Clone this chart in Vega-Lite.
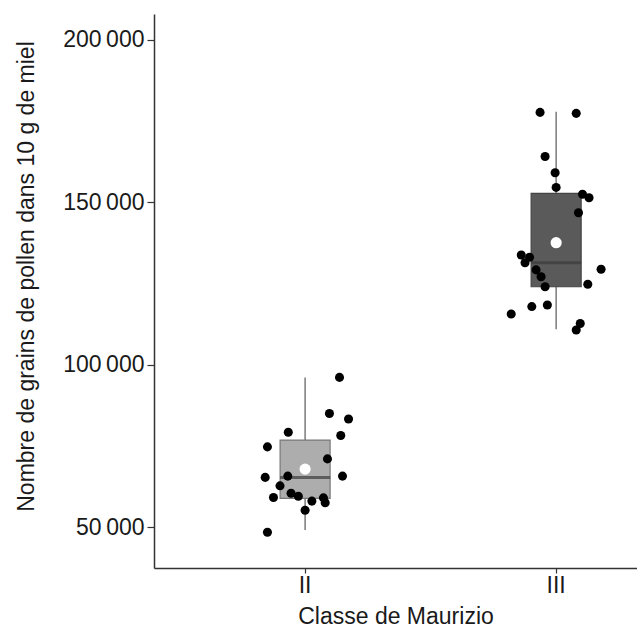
{
  "$schema": "https://vega.github.io/schema/vega-lite/v6.json",
  "autosize": "none",
  "width": 483,
  "height": 554,
  "padding": {"left": 154, "top": 14, "right": 0, "bottom": 66},
  "background": "white",
  "config": {
    "view": {"stroke": null},
    "font": "Liberation Sans",
    "axis": {
      "grid": false,
      "domainColor": "#333333",
      "domainWidth": 1.5,
      "tickColor": "#333333",
      "tickWidth": 1.2,
      "labelColor": "#1a1a1a",
      "titleColor": "#1a1a1a",
      "labelFont": "Liberation Sans",
      "titleFont": "Liberation Sans",
      "labelFontSize": 23,
      "titleFontSize": 23,
      "titleFontWeight": "normal"
    }
  },
  "datasets": {
    "pts": [
      {"classe": "II", "jitter": 0.137, "pollen": 96100},
      {"classe": "II", "jitter": 0.097, "pollen": 85000},
      {"classe": "II", "jitter": 0.173, "pollen": 83300},
      {"classe": "II", "jitter": -0.067, "pollen": 79200},
      {"classe": "II", "jitter": 0.142, "pollen": 78200},
      {"classe": "II", "jitter": -0.15, "pollen": 74700},
      {"classe": "II", "jitter": 0.089, "pollen": 71000},
      {"classe": "II", "jitter": -0.159, "pollen": 65300},
      {"classe": "II", "jitter": -0.069, "pollen": 65700},
      {"classe": "II", "jitter": 0.149, "pollen": 65700},
      {"classe": "II", "jitter": -0.1, "pollen": 62700},
      {"classe": "II", "jitter": -0.126, "pollen": 59100},
      {"classe": "II", "jitter": -0.056, "pollen": 60400},
      {"classe": "II", "jitter": -0.027, "pollen": 59500},
      {"classe": "II", "jitter": 0.027, "pollen": 58000},
      {"classe": "II", "jitter": 0.073, "pollen": 59000},
      {"classe": "II", "jitter": 0.08, "pollen": 57500},
      {"classe": "II", "jitter": 0.0, "pollen": 55200},
      {"classe": "II", "jitter": -0.15, "pollen": 48400},
      {"classe": "III", "jitter": -0.064, "pollen": 177700},
      {"classe": "III", "jitter": 0.08, "pollen": 177400},
      {"classe": "III", "jitter": -0.044, "pollen": 164100},
      {"classe": "III", "jitter": -0.004, "pollen": 159100},
      {"classe": "III", "jitter": 0.0, "pollen": 154600},
      {"classe": "III", "jitter": 0.105, "pollen": 152500},
      {"classe": "III", "jitter": 0.131, "pollen": 151400},
      {"classe": "III", "jitter": 0.089, "pollen": 146800},
      {"classe": "III", "jitter": -0.139, "pollen": 133800},
      {"classe": "III", "jitter": -0.106, "pollen": 133100},
      {"classe": "III", "jitter": -0.124, "pollen": 131400},
      {"classe": "III", "jitter": -0.08, "pollen": 129200},
      {"classe": "III", "jitter": -0.06, "pollen": 127100},
      {"classe": "III", "jitter": 0.179, "pollen": 129400},
      {"classe": "III", "jitter": 0.126, "pollen": 124800},
      {"classe": "III", "jitter": -0.044, "pollen": 124000},
      {"classe": "III", "jitter": -0.097, "pollen": 117900},
      {"classe": "III", "jitter": -0.035, "pollen": 118400},
      {"classe": "III", "jitter": -0.179, "pollen": 115600},
      {"classe": "III", "jitter": 0.096, "pollen": 112700},
      {"classe": "III", "jitter": 0.08, "pollen": 110700}
    ],
    "summary": [
      {"classe": "II", "min": 49080, "q1": 58840, "median": 65300, "q3": 76800, "max": 96100, "mean": 67860},
      {"classe": "III", "min": 110900, "q1": 124010, "median": 131400, "q3": 152780, "max": 177900, "mean": 137570}
    ]
  },
  "encoding": {
    "x": {
      "field": "classe",
      "type": "nominal",
      "scale": {"domain": ["II", "III"], "paddingInner": 0.5, "paddingOuter": 0.212, "align": 0.83},
      "axis": {"title": "Classe de Maurizio", "labelAngle": 0, "tickSize": 5, "labelPadding": 1, "titlePadding": 8}
    }
  },
  "layer": [
    {
      "data": {"name": "summary"},
      "mark": {"type": "rule", "color": "#7a7a7a", "strokeWidth": 1.5},
      "encoding": {
        "y": {"field": "min", "type": "quantitative", "scale": {"domain": [37400, 208000], "nice": false, "zero": false},
          "axis": {"title": "Nombre de grains de pollen dans 10 g de miel", "values": [50000, 100000, 150000, 200000],
            "labelExpr": "format(datum.value / 1000, 'd') + '\u2009000'", "tickSize": 7, "labelPadding": 3, "titlePadding": 24, "titleY": 262}},
        "y2": {"field": "max"}
      }
    },
    {
      "data": {"name": "summary"},
      "mark": {"type": "bar", "width": 50, "strokeWidth": 1.2},
      "encoding": {
        "y": {"field": "q1", "type": "quantitative"},
        "y2": {"field": "q3"},
        "fill": {"field": "classe", "type": "nominal", "scale": {"domain": ["II", "III"], "range": ["#adadad", "#5a5a5a"]}, "legend": null},
        "stroke": {"field": "classe", "type": "nominal", "scale": {"domain": ["II", "III"], "range": ["#777777", "#444444"]}, "legend": null}
      }
    },
    {
      "data": {"name": "summary"},
      "mark": {"type": "tick", "orient": "horizontal", "size": 50, "thickness": 3, "color": "#3a3a3a"},
      "encoding": {
        "y": {"field": "median", "type": "quantitative"}
      }
    },
    {
      "data": {"name": "pts"},
      "mark": {"type": "circle", "color": "#000000", "opacity": 1, "size": 82},
      "encoding": {
        "xOffset": {"field": "jitter", "type": "quantitative", "scale": {"domain": [-0.25, 0.25]}},
        "y": {"field": "pollen", "type": "quantitative"}
      }
    },
    {
      "data": {"name": "summary"},
      "mark": {"type": "circle", "color": "#ffffff", "opacity": 1, "size": 125},
      "encoding": {
        "y": {"field": "mean", "type": "quantitative"}
      }
    }
  ]
}
